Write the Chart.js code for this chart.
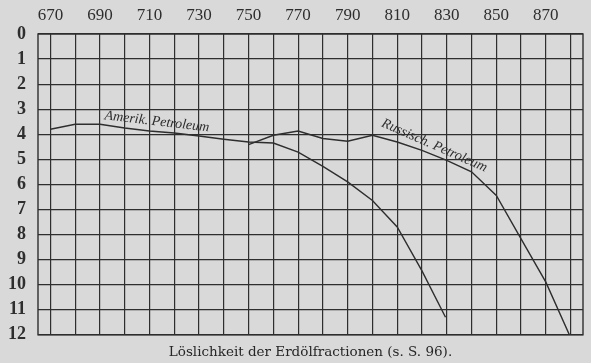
<!DOCTYPE html>
<html>
<head>
<meta charset="utf-8">
<script src="https://cdn.jsdelivr.net/npm/chart.js@4.4.1/dist/chart.umd.min.js"></script>
<style>
  html, body { margin: 0; padding: 0; background: #d9d9d9; }
  #wrap { width: 591px; height: 363px; }
</style>
</head>
<body>
<div id="wrap"><canvas id="chart"></canvas></div>
<script>
// x = Temperatur (Skala oben), y = Löslichkeit (0 oben, 12 unten)
const xTicks = [670, 680, 690, 700, 710, 720, 730, 740, 750, 760, 770, 780, 790, 800, 810, 820, 830, 840, 850, 860, 870, 880];

const amerikX = [670, 680, 690, 700, 710, 720, 730, 740, 750, 760, 770, 780, 790, 800, 810, 820, 829.5];
const amerikY = [3.8, 3.6, 3.6, 3.75, 3.87, 3.95, 4.07, 4.2, 4.31, 4.35, 4.71, 5.28, 5.9, 6.64, 7.7, 9.45, 11.3];

const russX = [750, 760, 770, 780, 790, 800, 810, 820, 830, 840, 850, 860, 870, 879.5];
const russY = [4.41, 4.04, 3.87, 4.17, 4.28, 4.04, 4.31, 4.64, 5.04, 5.5, 6.44, 8.17, 9.9, 12.0];

const ink = '#2e2e2e';

function toPoints(xs, ys) {
  return xs.map((x, i) => ({ x, y: ys[i] }));
}

// Rahmen + Kurvenbeschriftung
const paperPlugin = {
  id: 'paper',
  afterDraw(chart, args, opts) {
    const { ctx, chartArea, scales } = chart;
    ctx.save();
    ctx.strokeStyle = ink;
    ctx.lineWidth = 1.4;
    ctx.strokeRect(chartArea.left, chartArea.top, chartArea.right - chartArea.left, chartArea.bottom - chartArea.top);

    ctx.fillStyle = ink;
    ctx.font = 'italic 14px "Liberation Serif"';
    ctx.textAlign = 'center';
    ctx.textBaseline = 'middle';
    opts.labels.forEach((l) => {
      ctx.save();
      ctx.translate(scales.x.getPixelForValue(l.x), scales.y.getPixelForValue(l.y));
      ctx.rotate(l.angle * Math.PI / 180);
      ctx.fillText(l.text, 0, 0);
      ctx.restore();
    });
    ctx.restore();
  },
};

const lineStyle = {
  borderColor: ink,
  borderWidth: 1.4,
  pointRadius: 0,
  fill: false,
  tension: 0,
};

new Chart(document.getElementById('chart'), {
  type: 'line',
  data: {
    datasets: [
      { label: 'Amerik. Petroleum', data: toPoints(amerikX, amerikY), ...lineStyle },
      { label: 'Russisch. Petroleum', data: toPoints(russX, russY), ...lineStyle },
    ],
  },
  options: {
    responsive: true,
    maintainAspectRatio: false,
    animation: false,
    layout: { padding: { right: 8, left: 0, top: 0, bottom: 0 } },
    plugins: {
      legend: { display: false },
      tooltip: { enabled: false },
      title: {
        display: true,
        position: 'bottom',
        fullSize: false,
        text: 'Löslichkeit der Erdölfractionen (s. S. 96).',
        color: '#262626',
        font: { family: '"DejaVu Serif"', size: 13.5, weight: 'normal' },
        padding: { top: 10, bottom: 2 },
      },
      paper: {
        labels: [
          { text: 'Amerik. Petroleum', x: 713, y: 3.5, angle: 6.7 },
          { text: 'Russisch. Petroleum', x: 825, y: 4.45, angle: 23.8 },
        ],
      },
    },
    scales: {
      x: {
        type: 'linear',
        position: 'top',
        min: 665,
        max: 885,
        afterBuildTicks: (scale) => {
          scale.ticks = xTicks.map((v) => ({ value: v }));
        },
        afterFit: (scale) => { scale.height = 34; },
        ticks: {
          color: ink,
          padding: 8,
          maxRotation: 0,
          autoSkip: false,
          font: { family: '"Liberation Serif"', size: 17 },
          callback: (v) => ((v - 670) % 20 === 0 && v <= 870 ? v : ''),
        },
        grid: { color: ink, lineWidth: 1.2, drawTicks: false },
        border: { display: false },
      },
      y: {
        type: 'linear',
        reverse: true,
        min: 0,
        max: 12,
        afterFit: (scale) => { scale.width = 38; },
        ticks: {
          stepSize: 1,
          color: ink,
          padding: 12,
          font: { family: '"Liberation Serif"', size: 18, weight: 'bold' },
        },
        grid: { color: ink, lineWidth: 1.2, drawTicks: false },
        border: { display: false },
      },
    },
  },
  plugins: [paperPlugin],
});
</script>
</body>
</html>
